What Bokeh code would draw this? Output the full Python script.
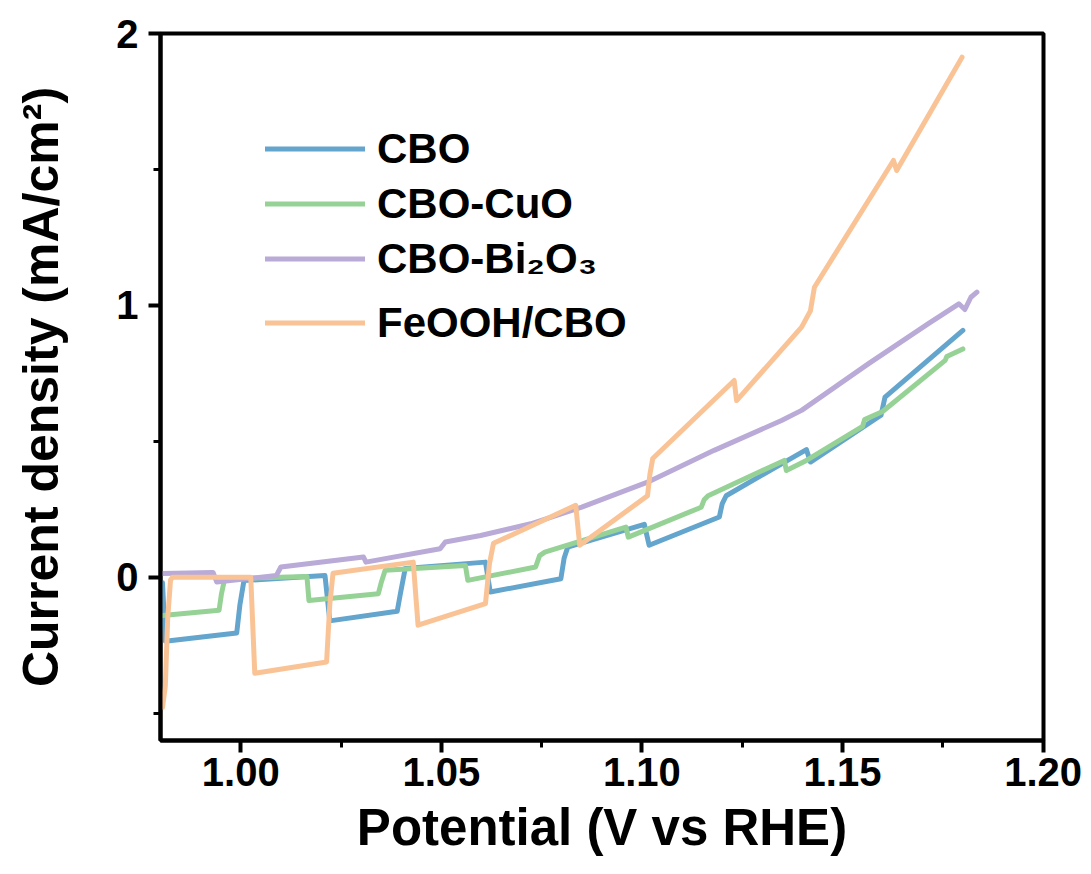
from bokeh.plotting import figure
from bokeh.models import (Range1d, SingleIntervalTicker, PrintfTickFormatter,
                          Legend, LegendItem)
from bokeh.embed import file_html
from bokeh.resources import INLINE

# ---- data ----
cbo_x = [0.9805, 0.9812, 0.9990, 0.9998, 1.0008, 1.0210, 1.0222, 1.0390, 1.0398, 1.0410,
         1.0610, 1.0622, 1.0798, 1.0806, 1.0815, 1.1006, 1.1018, 1.1193, 1.1200, 1.1210,
         1.1410, 1.1420, 1.1596, 1.1606, 1.1800]
cbo_y = [-0.02, -0.235, -0.205, -0.10, -0.012, 0.007, -0.160, -0.125, -0.06, 0.033,
         0.056, -0.054, -0.005, 0.07, 0.111, 0.195, 0.118, 0.222, 0.27, 0.300,
         0.470, 0.424, 0.596, 0.663, 0.908]

cuo_x = [0.9805, 0.9946, 0.9952, 0.9960, 1.0165, 1.0170, 1.0343, 1.0350, 1.0360, 1.0560,
         1.0566, 1.0735, 1.0745, 1.0758, 1.0960, 1.0966, 1.1148, 1.1155, 1.1165, 1.1355,
         1.1360, 1.1410, 1.1550, 1.1555, 1.1600, 1.1756, 1.1760, 1.1800]
cuo_y = [-0.14, -0.121, -0.06, -0.005, 0.003, -0.085, -0.060, -0.02, 0.026, 0.044,
         -0.011, 0.038, 0.08, 0.093, 0.185, 0.148, 0.258, 0.285, 0.300, 0.43,
         0.393, 0.430, 0.555, 0.58, 0.61, 0.798, 0.812, 0.840]

bi_x = [0.9805, 0.9931, 0.9940, 1.0089, 1.0100, 1.0306, 1.0312, 1.0497, 1.0510, 1.0598,
        1.0723, 1.0850, 1.1014, 1.1180, 1.1348, 1.1398, 1.1565, 1.1714, 1.1790, 1.1805,
        1.1820, 1.1835]
bi_y = [0.014, 0.018, -0.017, 0.007, 0.038, 0.075, 0.056, 0.105, 0.13, 0.154,
        0.197, 0.258, 0.350, 0.467, 0.577, 0.614, 0.786, 0.933, 1.006, 0.985,
        1.03, 1.049]

fe_x = [0.9805, 0.9812, 0.9818, 0.9825, 0.9830, 1.0025, 1.0035, 1.0214, 1.0222, 1.0230,
        1.0430, 1.0442, 1.0610, 1.0620, 1.0630, 1.0835, 1.0845, 1.1014, 1.1020, 1.1027,
        1.1230, 1.1236, 1.1398, 1.1420, 1.1430, 1.1627, 1.1635, 1.1798]
fe_y = [-0.478, -0.40, -0.15, -0.01, 0.0, 0.0, -0.353, -0.311, -0.10, 0.015,
        0.056, -0.176, -0.097, 0.05, 0.125, 0.265, 0.118, 0.300, 0.38, 0.437,
        0.724, 0.650, 0.920, 0.980, 1.067, 1.533, 1.496, 1.913]

labels = ["CBO", "CBO-CuO", "CBO-Bi\u2082O\u2083", "FeOOH/CBO"]
colors = ["#64a5cd", "#96d296", "#b9aad7", "#fac396"]

FONT = "Liberation Sans"

p = figure(width=1091, height=874, output_backend="svg", toolbar_location=None,
           x_range=Range1d(0.98, 1.2001), y_range=Range1d(-0.6, 2.0),
           min_border_left=160, min_border_right=48, min_border_top=33,
           min_border_bottom=134)
p.grid.visible = False
p.outline_line_color = "black"
p.outline_line_width = 4
p.outline_line_alpha = 1.0
p.background_fill_color = "white"
p.border_fill_color = "white"

series = [(cbo_x, cbo_y), (cuo_x, cuo_y), (bi_x, bi_y), (fe_x, fe_y)]
renderers = []
for (xs, ys), c in zip(series, colors):
    r = p.line(xs, ys, line_color=c, line_width=5, line_cap="round", line_join="round")
    renderers.append(r)

p.xaxis.ticker = SingleIntervalTicker(interval=0.05, num_minor_ticks=2)
p.yaxis.ticker = SingleIntervalTicker(interval=1, num_minor_ticks=2)
p.xaxis.formatter = PrintfTickFormatter(format="%.2f")
p.yaxis.formatter = PrintfTickFormatter(format="%.0f")

for ax in (p.xaxis[0], p.yaxis[0]):
    ax.axis_line_width = 4
    ax.axis_line_color = "black"
    ax.major_tick_in = 0
    ax.major_tick_out = 12
    ax.major_tick_line_width = 4
    ax.minor_tick_in = 0
    ax.minor_tick_out = 7
    ax.minor_tick_line_width = 3
    ax.major_label_text_font = FONT
    ax.major_label_text_font_style = "bold"
    ax.major_label_text_font_size = "40px"
    ax.major_label_text_color = "black"
    ax.axis_label_text_font = FONT
    ax.axis_label_text_font_style = "bold"
    ax.axis_label_text_color = "black"

p.xaxis.axis_label = "Potential (V vs RHE)"
p.xaxis.axis_label_text_font_size = "51px"
p.xaxis.major_label_standoff = 5
p.xaxis.axis_label_standoff = 10

p.yaxis.axis_label = "Current density (mA/cm\u00b2)"
p.yaxis.axis_label_text_font_size = "50px"
p.yaxis.major_label_standoff = 10
p.yaxis.axis_label_standoff = 44

def make_legend(items, loc):
    lg = Legend(items=items, location=loc, label_text_font=FONT,
                label_text_font_style="bold", label_text_font_size="42px",
                label_text_color="black", glyph_width=100, glyph_height=55,
                label_height=55, label_standoff=12, spacing=0, padding=0,
                margin=0, border_line_alpha=0, background_fill_alpha=0)
    return lg

leg1 = make_legend([LegendItem(label=labels[i], renderers=[renderers[i]]) for i in range(3)],
                   (105, 454))
leg2 = make_legend([LegendItem(label=labels[3], renderers=[renderers[3]])], (105, 390))
p.add_layout(leg1, "center")
p.add_layout(leg2, "center")

open("out.html", "w").write(file_html(p, INLINE))
